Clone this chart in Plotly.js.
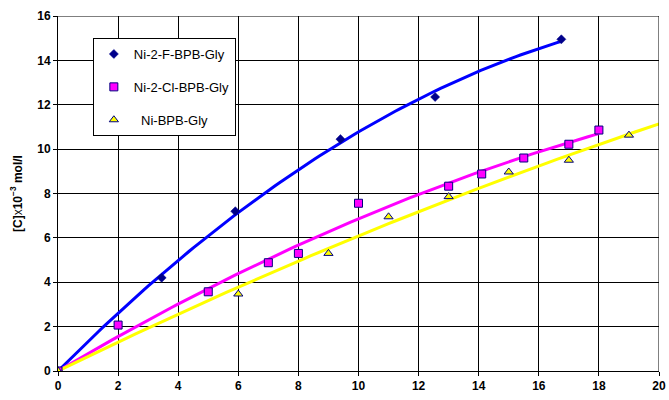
<!DOCTYPE html>
<html><head><meta charset="utf-8">
<script src="https://cdn.plot.ly/plotly-3.0.1.min.js"></script>
<style>html,body{margin:0;padding:0;background:#fff}#chart{width:669px;height:400px}</style>
</head><body><div id="chart"></div>
<script>
// Ni-2-F-BPB-Gly
const fX = [0, 3.45, 5.9, 9.4, 12.55, 16.75];
const fY = [0, 4.2, 7.2, 10.45, 12.35, 14.95];
// Ni-2-Cl-BPB-Gly
const clX = [0, 2, 5, 7, 8, 10, 13, 14.1, 15.5, 17, 18];
const clY = [0, 2.07, 3.57, 4.88, 5.3, 7.56, 8.33, 8.88, 9.6, 10.22, 10.86];
// Ni-BPB-Gly
const bX = [0, 6, 9, 11, 13, 15, 17, 19];
const bY = [0, 3.47, 5.3, 6.95, 7.86, 8.97, 9.5, 10.63];
const names = ['Ni-2-F-BPB-Gly', 'Ni-2-Cl-BPB-Gly', '  Ni-BPB-Gly'];
const xTicks = [0, 2, 4, 6, 8, 10, 12, 14, 16, 18, 20];

// least squares quadratic through origin: y = a x + b x^2
function fit(xs, ys) {
  let s2=0,s3=0,s4=0,sy1=0,sy2=0;
  xs.forEach((x,i)=>{const y=ys[i];s2+=x*x;s3+=x*x*x;s4+=x*x*x*x;sy1+=x*y;sy2+=x*x*y;});
  const det = s2*s4 - s3*s3;
  const a = (sy1*s4 - s3*sy2)/det;
  const b = (s2*sy2 - s3*sy1)/det;
  return x => a*x + b*x*x;
}
function curve(xs, ys, xmax) {
  const f = fit(xs, ys); const cx=[], cy=[];
  for (let i=0;i<=100;i++){const x=xmax*i/100;cx.push(x);cy.push(f(x));}
  return {x:cx,y:cy};
}
const cF = curve(fX,fY,fX[fX.length-1]);
const cCl = curve(clX,clY,clX[clX.length-1]);
const cB = curve(bX,bY,20);

const traces = [
  {x:cF.x,y:cF.y,mode:'lines',line:{color:'#0000ff',width:3},showlegend:false,hoverinfo:'skip'},
  {x:cCl.x,y:cCl.y,mode:'lines',line:{color:'#ff00ff',width:3},showlegend:false,hoverinfo:'skip'},
  {x:cB.x,y:cB.y,mode:'lines',line:{color:'#ffff00',width:3},showlegend:false,hoverinfo:'skip'},
  {x:fX,y:fY,mode:'markers',name:names[0],legendgroup:'a',marker:{symbol:'diamond',size:7,color:'#00008b',line:{color:'#00008b',width:0.5}}},
  {x:clX,y:clY,mode:'markers',name:names[1],legendgroup:'b',marker:{symbol:'square',size:8,color:'#ff00ff',line:{color:'#000080',width:1}}},
  {x:bX,y:bY,mode:'markers',name:names[2],legendgroup:'c',marker:{symbol:'triangle-up',size:8,color:'#ffff00',line:{color:'#000080',width:1}}}
];

const layout = {
  width:669,height:400,
  margin:{l:58,r:10,t:16,b:29},
  paper_bgcolor:'#fff',plot_bgcolor:'#fff',
  font:{family:'Liberation Sans, Arial, sans-serif',color:'#000'},
  showlegend:true,
  legend:{x:0.058,y:0.938,xanchor:'left',yanchor:'top',bordercolor:'#000',borderwidth:1,bgcolor:'#fff',
    font:{size:13,family:'Liberation Sans, Arial, sans-serif'},tracegroupgap:13,itemwidth:30},
  xaxis:{range:[0,20],tickvals:xTicks,ticktext:xTicks.map(String),showgrid:true,gridcolor:'#000',gridwidth:1,
    zeroline:false,showline:true,linecolor:'#000',linewidth:1,mirror:false,ticks:'outside',ticklen:4,tickcolor:'#000',
    tickfont:{size:12,weight:'bold'},fixedrange:true},
  yaxis:{range:[0,16],dtick:2,showgrid:true,gridcolor:'#000',gridwidth:1,zeroline:false,showline:true,linecolor:'#000',
    linewidth:1,ticks:'outside',ticklen:4,tickcolor:'#000',tickfont:{size:12,weight:'bold'},
    title:{text:'[C]<span style="font-weight:normal">x</span>10<sup>−3</sup> mol/l',font:{size:12,weight:'bold'},standoff:12},fixedrange:true},
  shapes:[{type:'line',xref:'x',yref:'paper',x0:20,x1:20,y0:0,y1:1,line:{color:'#000',width:1}},
          {type:'line',xref:'paper',yref:'y',x0:0,x1:1,y0:16,y1:16,line:{color:'#000',width:1}}]
};
Plotly.newPlot('chart',traces,layout,{displayModeBar:false,staticPlot:true});
</script></body></html>
